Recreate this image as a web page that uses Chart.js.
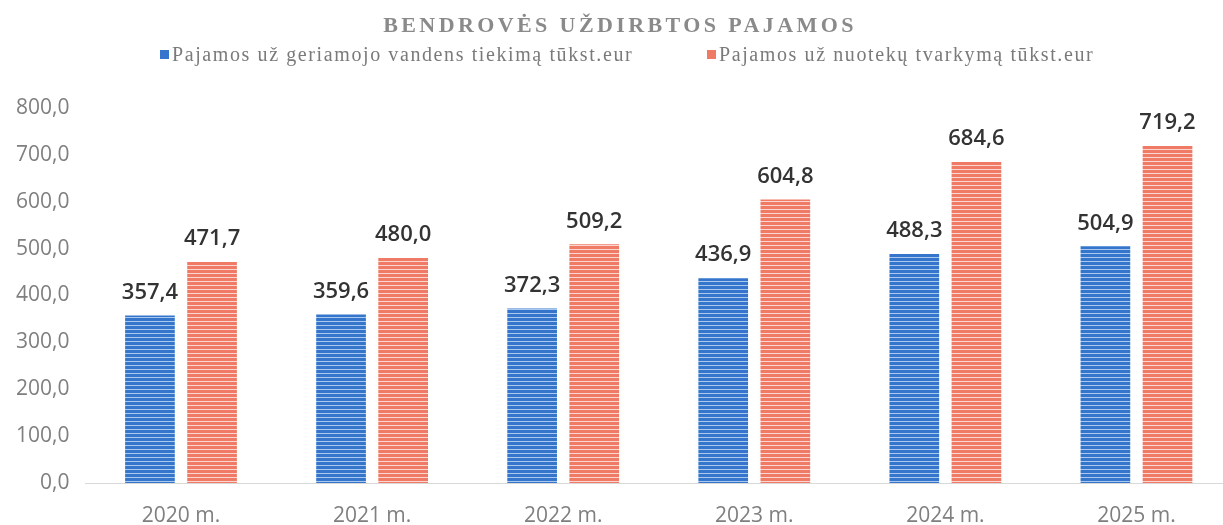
<!DOCTYPE html>
<html><head><meta charset="utf-8">
<script src="https://cdn.jsdelivr.net/npm/chart.js@4"></script>
<style>
html,body{margin:0;padding:0;background:#fff;overflow:hidden;}
#wrap{width:1232px;height:525px;position:relative;}
</style></head>
<body><div id="wrap"><canvas id="c"></canvas></div>
<script>
const categories = ['2020 m.', '2021 m.', '2022 m.', '2023 m.', '2024 m.', '2025 m.'];
const waterSupply = [357.4, 359.6, 372.3, 436.9, 488.3, 504.9];
const wastewater = [471.7, 480.0, 509.2, 604.8, 684.6, 719.2];
const seriesNames = ['Pajamos už geriamojo vandens tiekimą tūkst.eur', 'Pajamos už nuotekų tvarkymą tūkst.eur'];
const chartTitle = 'BENDROVĖS UŽDIRBTOS PAJAMOS';
const seriesColors = ['#3576cc', '#ef7a66'];

function stripes(base, light) {
  const p = document.createElement('canvas');
  p.width = 6; p.height = 4;
  const g = p.getContext('2d');
  g.fillStyle = base; g.fillRect(0, 0, 6, 4);
  g.fillStyle = light; g.fillRect(0, 1, 6, 1);
  return document.getElementById('c').getContext('2d').createPattern(p, 'repeat');
}
const fmt = v => v.toFixed(1).replace('.', ',');

const headerPlugin = {
  id: 'header',
  afterDraw(chart) {
    const ctx = chart.ctx;
    ctx.save();
    ctx.font = 'bold 22px "Liberation Serif"';
    ctx.fillStyle = '#8a8a8a';
    ctx.textAlign = 'center';
    ctx.textBaseline = 'alphabetic';
    ctx.letterSpacing = '3.4px';
    ctx.fillText(chartTitle, 620, 32);
    // legend
    ctx.font = '20px "Liberation Serif"';
    ctx.letterSpacing = '1.6px';
    ctx.textAlign = 'left';
    const starts = [160, 707];
    seriesNames.forEach((n, i) => {
      ctx.fillStyle = seriesColors[i];
      ctx.fillRect(starts[i], 50, 9, 9);
      ctx.fillStyle = '#7a7a7a';
      ctx.fillText(n, starts[i] + 12, 61);
    });
    ctx.restore();
  }
};
const labelPlugin = {
  id: 'valueLabels',
  afterDatasetsDraw(chart) {
    const ctx = chart.ctx;
    ctx.save();
    ctx.font = '600 22px "Open Sans"';
    ctx.fillStyle = '#333333';
    ctx.textAlign = 'center';
    ctx.textBaseline = 'bottom';
    chart.data.datasets.forEach((ds, i) => {
      chart.getDatasetMeta(i).data.forEach((bar, j) => {
        ctx.fillText(fmt(ds.data[j]), bar.x, bar.y - 12);
      });
    });
    ctx.restore();
  }
};

new Chart(document.getElementById('c'), {
  type: 'bar',
  data: {
    labels: categories,
    datasets: [
      { label: seriesNames[0], data: waterSupply, backgroundColor: stripes(seriesColors[0], '#a9c8ee'), borderWidth: 0 },
      { label: seriesNames[1], data: wastewater, backgroundColor: stripes(seriesColors[1], '#fcd6ce'), borderWidth: 0 }
    ]
  },
  options: {
    responsive: true,
    maintainAspectRatio: false,
    animation: false,
    layout: { padding: { top: 108, left: 0, right: 0, bottom: 0 } },
    datasets: { bar: { barPercentage: 0.8, categoryPercentage: 0.65 } },
    plugins: {
      title: { display: false },
      tooltip: { enabled: false },
      legend: { display: false }
    },
    scales: {
      x: {
        grid: { display: false, drawTicks: false },
        border: { display: true, color: '#d9d9d9', width: 1 },
        ticks: { color: '#7f7f7f', font: { family: '"Open Sans"', size: 21 }, padding: 20 },
        afterFit(scale) { scale.height = 42; }
      },
      y: {
        min: 0, max: 800,
        grid: { display: false, drawTicks: false },
        border: { display: false },
        ticks: { stepSize: 100, color: '#7f7f7f', padding: 16, font: { family: '"Open Sans"', size: 21 }, callback: v => fmt(v) }
      }
    }
  },
  plugins: [headerPlugin, labelPlugin]
});
</script></body></html>
